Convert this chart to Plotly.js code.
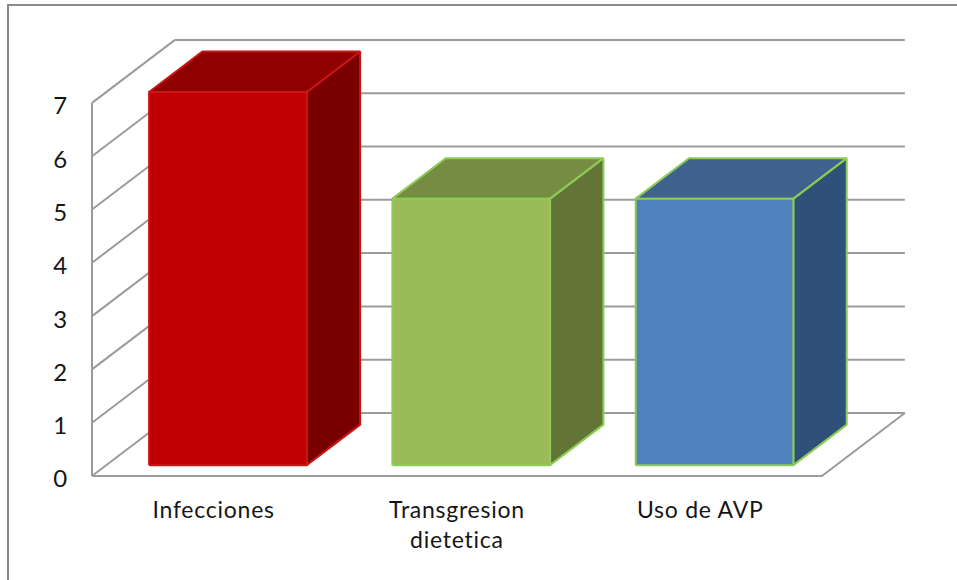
<!DOCTYPE html>
<html>
<head>
<meta charset="utf-8">
<script src="https://cdn.plot.ly/plotly-3.0.1.min.js"></script>
<style>
  html, body { margin: 0; padding: 0; background: #fff; }
  .xtick text { letter-spacing: 0.75px; }
</style>
</head>
<body>
<div id="chart" style="width:957px;height:580px"></div>
<script>
// Values per cause
const categories = ['Infecciones', 'Transgresion<br>dietetica', 'Uso de AVP'];
const values = [7, 5, 5];
const valueTicks = [0, 1, 2, 3, 4, 5, 6, 7];

// Face colours per bar
const frontColors = ['#c00000', '#9bbb59', '#4f81bd'];
const topColors = ['#8f0000', '#778c43', '#3e618d'];
const sideColors = ['#7a0000', '#637536', '#2f5078'];
const edgeColors = ['#c81616', '#8ccb55', '#8ccb55'];

// Oblique projection: a unit of depth moves a point right and up, in axis units
const depthX = 0.341;
const depthY = 1.182;
const barWidth = 0.648;
const barDepthStart = 0.172;
const barDepthEnd = 0.815;
const wallColor = '#9b9b9b';

const project = (x, v, d) => [x + d * depthX, v + d * depthY];

function polyline(points, color, width) {
  const p = points.map(q => project(q[0], q[1], q[2]));
  return {
    type: 'scatter', mode: 'lines', hoverinfo: 'skip', showlegend: false,
    x: p.map(q => q[0]), y: p.map(q => q[1]),
    line: { color: color, width: width, shape: 'linear' }
  };
}

function face(points, fill, edge) {
  const t = polyline(points.concat([points[0]]), edge, 2);
  t.fill = 'toself';
  t.fillcolor = fill;
  return t;
}

const traces = [];

// Back wall gridlines and the left wall diagonals
valueTicks.forEach(v => {
  traces.push(polyline([[0, v, 1], [3, v, 1]], wallColor, 2));
  traces.push(polyline([[0, v, 0], [0, v, 1]], wallColor, 2));
});
// Left wall front edge and the floor outline
traces.push(polyline([[0, valueTicks[0], 0], [0, valueTicks[valueTicks.length - 1], 0]], wallColor, 2));
traces.push(polyline([[0, 0, 0], [3, 0, 0], [3, 0, 1]], wallColor, 2));

// One box per category: side, top, then front face
values.forEach((v, i) => {
  const x0 = i + 0.5 - barWidth / 2;
  const x1 = i + 0.5 + barWidth / 2;
  const d0 = barDepthStart;
  const d1 = barDepthEnd;
  traces.push(face([[x1, 0, d0], [x1, 0, d1], [x1, v, d1], [x1, v, d0]], sideColors[i], edgeColors[i]));
  traces.push(face([[x0, v, d0], [x0, v, d1], [x1, v, d1], [x1, v, d0]], topColors[i], edgeColors[i]));
  traces.push(face([[x0, 0, d0], [x1, 0, d0], [x1, v, d0], [x0, v, d0]], frontColors[i], edgeColors[i]));
});

// Plot box sits a little outside the wall so its strokes are not clipped
const plotLeft = 82, plotRight = 42, plotTop = 20, plotBottom = 94;
const originX = 92, originY = 476;
const pxPerCategory = 243.3, pxPerUnit = 53.3;
const plotW = 957 - plotLeft - plotRight;
const plotH = 580 - plotTop - plotBottom;
const xMin = -(originX - plotLeft) / pxPerCategory;
const yMin = -(580 - plotBottom - originY) / pxPerUnit;
const xFont = { family: 'Lato, "Noto Sans", sans-serif', size: 23, color: '#161616' };
const yFont = { family: 'Lato, "Noto Sans", sans-serif', size: 24, color: '#161616' };

const paperX = px => (px - plotLeft) / plotW;
const paperY = py => (580 - plotBottom - py) / plotH;

const layout = {
  width: 957,
  height: 580,
  autosize: false,
  margin: { l: plotLeft, r: plotRight, t: plotTop, b: plotBottom, pad: 0 },
  paper_bgcolor: '#ffffff',
  plot_bgcolor: '#ffffff',
  showlegend: false,
  hovermode: false,
  xaxis: {
    range: [xMin, xMin + plotW / pxPerCategory],
    tickmode: 'array',
    tickvals: categories.map((c, i) => i + 0.5),
    ticktext: categories,
    ticks: 'outside', ticklen: 3, tickcolor: 'rgba(0,0,0,0)',
    showgrid: false, zeroline: false, showline: false,
    tickfont: xFont, tickangle: 0
  },
  yaxis: {
    range: [yMin, yMin + plotH / pxPerUnit],
    tickmode: 'array',
    tickvals: valueTicks,
    ticktext: valueTicks.map(String),
    ticks: 'outside', ticklen: 9, tickcolor: 'rgba(0,0,0,0)',
    ticklabelshift: 3,
    showgrid: false, zeroline: false, showline: false,
    tickfont: yFont
  },
  // Frame along the top and left of the figure
  shapes: [{
    type: 'path', xref: 'paper', yref: 'paper', layer: 'above',
    path: 'M ' + paperX(8) + ' ' + paperY(580) +
          ' L ' + paperX(8) + ' ' + paperY(5) +
          ' L ' + paperX(957) + ' ' + paperY(5),
    line: { color: '#8a8a8a', width: 2 }
  }]
};

Plotly.newPlot('chart', traces, layout, { displayModeBar: false, staticPlot: true });
</script>
</body>
</html>
